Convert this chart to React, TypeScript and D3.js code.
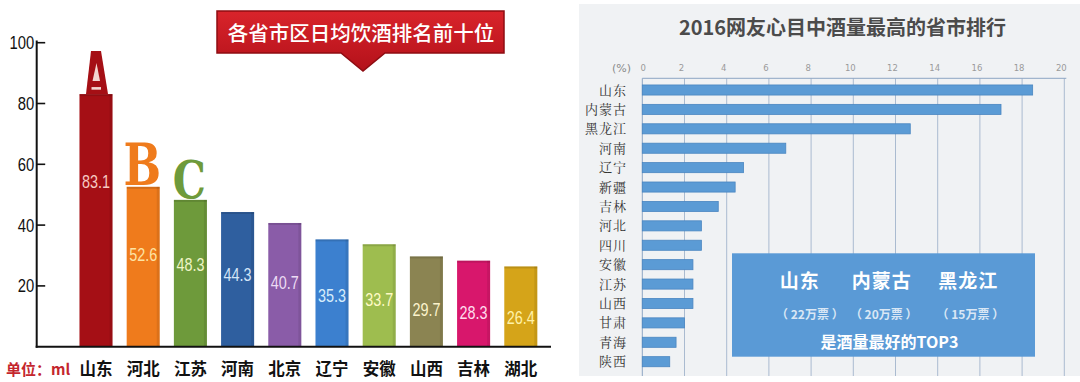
import React from 'react';
import * as d3 from 'd3';

// ---------- Left chart data ----------
const leftTitle = '各省市区日均饮酒排名前十位';
const unitLabel = '单位：ml';
const leftCategories = ['山东', '河北', '江苏', '河南', '北京', '辽宁', '安徽', '山西', '吉林', '湖北'];
const leftValues = [83.1, 52.6, 48.3, 44.3, 40.7, 35.3, 33.7, 29.7, 28.3, 26.4];
const leftTicks = [20, 40, 60, 80, 100];
const rankLetters = ['A', 'B', 'C'];

// ---------- Right chart data ----------
const rightTitle = '2016网友心目中酒量最高的省市排行';
const rightCategories = ['山东', '内蒙古', '黑龙江', '河南', '辽宁', '新疆', '吉林', '河北', '四川', '安徽', '江苏', '山西', '甘肃', '青海', '陕西'];
const rightValues = [18.5, 17.0, 12.7, 6.8, 4.8, 4.4, 3.6, 2.8, 2.8, 2.4, 2.4, 2.4, 2.0, 1.6, 1.3];
const rightTicks = [0, 2, 4, 6, 8, 10, 12, 14, 16, 18, 20];
const rightUnit = '(%)';
const topProvinces = ['山东', '内蒙古', '黑龙江'];
const topVotes = ['22万票', '20万票', '15万票'];
const topCaption = '是酒量最好的TOP3';

// ---------- Styles ----------
const barPalette = ['#a50f15', '#ef7b1c', '#6e9a3b', '#2f5f9f', '#8a5ca8', '#3c80cf', '#9ebd4f', '#8b8452', '#d8176c', '#d5a419'];
const labelPalette = ['#f6c9c2', '#fde3a3', '#eef5c6', '#d3e5f7', '#eddcf4', '#d6ecfb', '#fffac4', '#fbf3cc', '#ffdcec', '#fff2a8'];
const CJK = '"Noto Sans CJK SC", "Noto Sans", sans-serif';

export default function App() {
  // Left scales
  const xL = d3.scaleBand<string>().domain(leftCategories).range([72.4, 544.4]).paddingInner(0.3).paddingOuter(0.15);
  const yL = d3.scaleLinear().domain([0, 100]).range([346.7, 42.7]);
  const axisX = 36.7;

  // Right scales
  const xR = d3.scaleLinear().domain([0, 20]).range([642.3, 1064.3]);
  const yR = d3.scaleBand<string>().domain(rightCategories).range([80.3, 371.4]).paddingInner(0.48).paddingOuter(0.24);
  const gridTop = 78.3;
  const panelBottom = 376;

  // Title box geometry
  const tb = { x: 217, y: 11, w: 287, h: 42 };
  const tcx = 363;

  // Overlay box
  const ob = { x: 732, y: 253.3, w: 303, h: 103.4 };
  const wordFrac = [0.224, 0.494, 0.78];

  const bw = xL.bandwidth();

  const aLetter = (() => {
    const cx = (xL(leftCategories[0]) as number) + bw / 2;
    const top = yL(leftValues[0]);
    const outer = `M${cx - 10},${top} L${cx - 5},${top - 43} L${cx + 5},${top - 43} L${cx + 12},${top} Z`;
    return { cx, top, outer };
  })();

  return (
    <svg width={1080} height={382} style={{ position: 'absolute', left: 0, top: 0, background: '#fff' }}>
      <defs>
        <linearGradient id="redBox" x1="0" y1="0" x2="0" y2="1">
          <stop offset="0" stopColor="#d9242b" />
          <stop offset="1" stopColor="#b3111a" />
        </linearGradient>
      </defs>

      {/* ================= LEFT CHART ================= */}
      <g>
        <path
          d={`M${tb.x},${tb.y} H${tb.x + tb.w} V${tb.y + tb.h} H${tcx + 22} L${tcx},${tb.y + tb.h + 18} L${tcx - 22},${tb.y + tb.h} H${tb.x} Z`}
          fill="url(#redBox)"
          stroke="#8e0c12"
          strokeWidth={1.5}
        />
        <text x={tcx - 2} y={tb.y + 30} textAnchor="middle" fill="#fff" fontFamily={CJK} fontSize={20.5} fontWeight={500}>
          {leftTitle}
        </text>

        {leftCategories.map((c, i) => {
          const x = xL(c) as number;
          const y = yL(leftValues[i]);
          return (
            <g key={c}>
              <rect x={x} y={y} width={bw} height={yL(0) - y} fill={barPalette[i]} />
              <rect x={x + bw - 3} y={y} width={3} height={yL(0) - y} fill="#000" opacity={0.08} />
              <rect x={x} y={y} width={bw} height={2} fill="#000" opacity={0.12} />
            </g>
          );
        })}

        {leftCategories.map((c, i) => {
          const cx = (xL(c) as number) + bw / 2;
          const ly = yL(leftValues[i] * 0.786) + 35 + 5;
          return (
            <text
              key={'v' + c}
              transform={`translate(${cx},${ly}) scale(0.8,1)`}
              textAnchor="middle"
              fill={labelPalette[i]}
              fontFamily='"Liberation Sans", Arial, sans-serif'
              fontSize={18}
            >
              {leftValues[i].toFixed(1)}
            </text>
          );
        })}

        <path d={aLetter.outer} fill={barPalette[0]} />
        <path
          d={`M${aLetter.cx - 3.5},${aLetter.top - 13} L${aLetter.cx + 0.5},${aLetter.top - 31} L${aLetter.cx + 4},${aLetter.top - 13} Z`}
          fill="#f3d6d0"
        />
        <rect x={aLetter.cx - 4.5} y={aLetter.top - 7} width={9.5} height={2.6} fill="#f3d6d0" />

        {rankLetters.slice(1).map((l, k) => {
          const i = k + 1;
          const cx = (xL(leftCategories[i]) as number) + bw / 2;
          const y = yL(leftValues[i]);
          return (
            <text
              key={l}
              transform={`translate(${cx - 1},${y - 2}) scale(${i === 1 ? 0.78 : 0.8},1)`}
              textAnchor="middle"
              fill={barPalette[i]}
              fontFamily='"DejaVu Serif", serif'
              fontWeight="bold"
              fontSize={i === 1 ? 57 : 52}
            >
              {l}
            </text>
          );
        })}

        <line x1={axisX} x2={axisX} y1={40.5} y2={yL(0) + 1} stroke="#111" strokeWidth={2} />
        <line x1={axisX - 1} x2={551} y1={yL(0)} y2={yL(0)} stroke="#111" strokeWidth={2} />
        {leftTicks.map((t) => (
          <g key={t}>
            <line x1={axisX} x2={axisX + 8.5} y1={yL(t)} y2={yL(t)} stroke="#111" strokeWidth={1.6} />
            <text
              transform={`translate(${axisX - 2.5},${yL(t) + 6.5}) scale(0.78,1)`}
              textAnchor="end"
              fill="#111"
              fontFamily='"Liberation Sans", Arial, sans-serif'
              fontSize={19}
            >
              {t}
            </text>
          </g>
        ))}

        {leftCategories.map((c) => (
          <text
            key={'c' + c}
            x={(xL(c) as number) + bw / 2}
            y={375}
            textAnchor="middle"
            fill="#111"
            fontFamily={CJK}
            fontSize={16.5}
            fontWeight="bold"
          >
            {c}
          </text>
        ))}
        <text x={6} y={375} fill="#c4262d" fontFamily={CJK} fontSize={15} fontWeight="bold">
          {unitLabel}
        </text>
      </g>

      {/* ================= RIGHT CHART ================= */}
      <g>
        <rect x={579} y={4} width={501} height={panelBottom - 4} fill="#f0f2f4" />
        <text x={842.5} y={35} textAnchor="middle" fill="#4b4b4b" fontFamily={CJK} fontSize={20} fontWeight="bold">
          {rightTitle}
        </text>

        {rightTicks.map((t) => (
          <line key={'g' + t} x1={xR(t)} x2={xR(t)} y1={gridTop} y2={panelBottom} stroke={t === 0 ? '#8ea6c4' : '#aabbd0'} strokeWidth={1} />
        ))}
        <line x1={xR(0)} x2={xR(20) + 2} y1={gridTop} y2={gridTop} stroke="#8ea6c4" strokeWidth={1} />
        {rightTicks.map((t) => (
          <text key={'t' + t} x={xR(t) - (t === 0 ? -1 : 3)} y={71} textAnchor="middle" fill="#9a9a9a" fontFamily='"DejaVu Sans", sans-serif' fontSize={8.5}>
            {t}
          </text>
        ))}
        <text x={631} y={71.5} textAnchor="end" fill="#8a8a8a" fontFamily='"DejaVu Sans", sans-serif' fontSize={11}>
          {rightUnit}
        </text>

        {rightCategories.map((c, i) => (
          <rect
            key={'rb' + c}
            x={xR(0)}
            y={yR(c) as number}
            width={xR(rightValues[i]) - xR(0)}
            height={yR.bandwidth()}
            fill="#5b9bd5"
            stroke="#4a86c1"
            strokeWidth={0.8}
          />
        ))}
        {rightCategories.map((c) => (
          <text
            key={'rl' + c}
            x={627}
            y={(yR(c) as number) + yR.bandwidth() / 2 + 4.5}
            textAnchor="end"
            fill="#333"
            fontFamily='"Noto Serif CJK SC", "Noto Sans CJK SC", serif'
            fontSize={13}
            letterSpacing={1}
          >
            {c}
          </text>
        ))}

        <rect x={ob.x} y={ob.y} width={ob.w} height={ob.h} fill="#5a9ad6" />
        {topProvinces.map((p, i) => (
          <text key={'tp' + p} x={ob.x + ob.w * wordFrac[i]} y={ob.y + 35} textAnchor="middle" fill="#fff" fontFamily={CJK} fontSize={19} fontWeight="bold" letterSpacing={1}>
            {p}
          </text>
        ))}
        {topVotes.map((v, i) => (
          <text key={'tv' + v} x={ob.x + ob.w * wordFrac[i] + (i === 0 ? 10 : 2)} y={ob.y + 66} textAnchor="middle" fill="#d9e7f5" fontFamily={CJK} fontSize={12} fontWeight="bold">
            {`（ ${v} ）`}
          </text>
        ))}
        <text x={ob.x + ob.w * 0.5 + 6} y={ob.y + 95} textAnchor="middle" fill="#fff" fontFamily={CJK} fontSize={16} fontWeight="bold">
          {topCaption}
        </text>
      </g>
    </svg>
  );
}
